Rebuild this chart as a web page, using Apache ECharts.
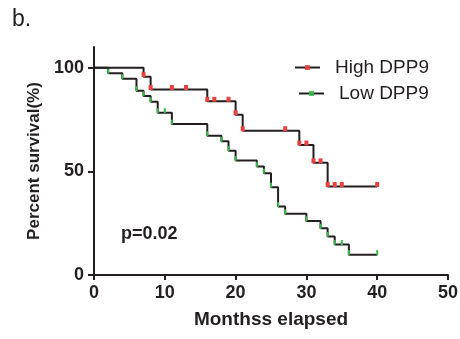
<!DOCTYPE html>
<html>
<head>
<meta charset="utf-8">
<script src="https://cdn.jsdelivr.net/npm/echarts@6/dist/echarts.min.js"></script>
<style>
  html, body { margin: 0; padding: 0; background: #fff; }
  #chart { width: 460px; height: 339px; }
</style>
</head>
<body>
<div id="chart"></div>
<script>
// Kaplan-Meier steps (months, percent surviving)
const highTimes = [0, 7, 8, 11, 13, 16, 17, 19, 20, 21, 27, 29, 30, 31, 32, 33, 34, 35, 40];
const highSurv = [100, 95.7, 89.5, 89.5, 89.5, 83.8, 83.8, 83.8, 77.3, 69.6, 69.6, 62.7, 62.7, 54.1, 54.1, 42.7, 42.7, 42.7, 42.7];

const lowTimes = [0, 2, 4, 6, 7, 8, 9, 10, 11, 16, 18, 19, 20, 23, 24, 25, 26, 27, 30, 32, 33, 34, 35, 36, 40];
const lowSurv = [100, 97.3, 94.7, 88.9, 86.4, 83.6, 78.3, 78.3, 72.8, 67.2, 64.5, 60.0, 55.2, 52.3, 49.1, 42.3, 33.0, 29.5, 26.1, 22.5, 18.6, 14.7, 14.7, 9.8, 9.8];

const xTicks = [0, 10, 20, 30, 40, 50];
const yTicks = [0, 50, 100];

const FONT = "'Liberation Sans', Arial, sans-serif";
const INK = "#231f20";

function toPoints(times, surv) {
  // no marker on the starting point
  return times.map((t, i) => (i === 0 ? { value: [t, surv[i]], symbol: "none" } : [t, surv[i]]));
}

function kmSeries(name, times, surv, markColor, markSize) {
  return {
    name,
    type: "line",
    step: "end",
    data: toPoints(times, surv),
    symbol: "rect",
    symbolSize: markSize,
    symbolOffset: [0, -2],
    showAllSymbol: true,
    lineStyle: { color: INK, width: 2 },
    itemStyle: { color: markColor },
    emphasis: { disabled: true },
    animation: false,
  };
}

const chart = echarts.init(document.getElementById("chart"), null, { renderer: "canvas" });

chart.setOption({
  animation: false,
  textStyle: { fontFamily: FONT },
  title: [
    {
      text: "b.",
      left: 12,
      top: 8,
      padding: 0,
      textStyle: { fontFamily: FONT, fontSize: 23, fontWeight: "normal", color: INK },
    },
    {
      text: "p=0.02",
      left: 121,
      top: 225,
      padding: 0,
      textStyle: { fontFamily: FONT, fontSize: 18, fontWeight: "bold", color: INK },
    },
  ],
  legend: [
    {
      data: ["High DPP9"],
      left: 294,
      top: 58,
      padding: 0,
      itemWidth: 25,
      itemHeight: 6,
      textStyle: { fontFamily: FONT, fontSize: 19, color: INK, padding: [0, 0, 0, 10] },
      selectedMode: false,
    },
    {
      data: ["Low DPP9"],
      left: 298,
      top: 84,
      padding: 0,
      itemWidth: 25,
      itemHeight: 6,
      textStyle: { fontFamily: FONT, fontSize: 19, color: INK, padding: [0, 0, 0, 10] },
      selectedMode: false,
    },
  ],
  grid: {
    left: 94,
    right: 12,
    top: 47,
    bottom: 64,
    containLabel: false,
    outerBoundsMode: "none",
  },
  xAxis: {
    type: "value",
    min: 0,
    max: 50,
    interval: 10,
    name: "Monthss elapsed",
    nameLocation: "middle",
    nameGap: 35,
    nameTextStyle: { fontFamily: FONT, fontSize: 19, fontWeight: "bold", color: INK },
    axisLine: { onZero: false, lineStyle: { color: INK, width: 2 } },
    axisTick: { show: true, inside: false, length: 5, lineStyle: { color: INK, width: 2 } },
    axisLabel: {
      customValues: xTicks,
      margin: 9,
      fontFamily: FONT,
      fontSize: 18,
      fontWeight: "bold",
      color: INK,
    },
    splitLine: { show: false },
  },
  yAxis: {
    type: "value",
    min: 0,
    max: 110,
    name: "Percent survival(%)",
    nameLocation: "middle",
    nameGap: 45,
    nameTextStyle: { fontFamily: FONT, fontSize: 17, fontWeight: "bold", color: INK },
    axisLine: { show: true, onZero: false, lineStyle: { color: INK, width: 2 } },
    axisTick: { show: true, inside: false, length: 6, customValues: yTicks, lineStyle: { color: INK, width: 2 } },
    axisLabel: {
      customValues: yTicks,
      margin: 10,
      fontFamily: FONT,
      fontSize: 18,
      fontWeight: "bold",
      color: INK,
    },
    splitLine: { show: false },
  },
  series: [
    kmSeries("Low DPP9", lowTimes, lowSurv, "#3ab54a", [2, 5]),
    kmSeries("High DPP9", highTimes, highSurv, "#e8413e", [4, 5]),
  ],
});
</script>
</body>
</html>
